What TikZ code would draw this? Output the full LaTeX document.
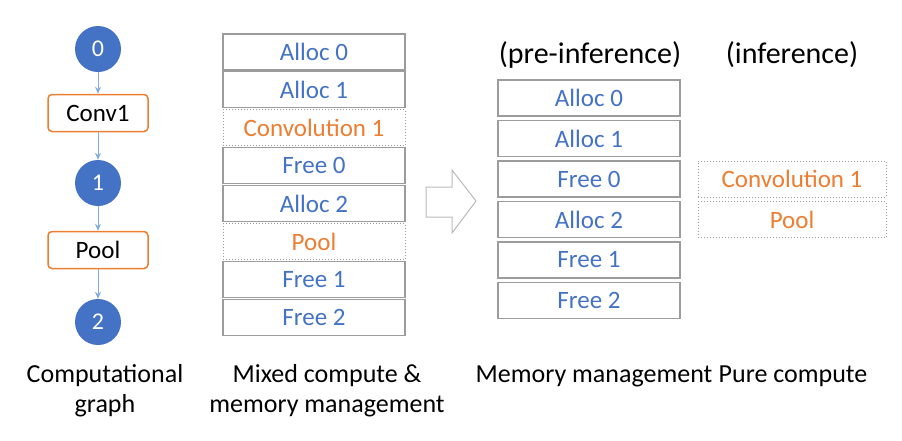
\documentclass[tikz,border=0pt]{standalone}
\usepackage{fontspec}
\setmainfont{Carlito}
\usetikzlibrary{arrows.meta}

\definecolor{opblue}{HTML}{4472C4}
\definecolor{oporange}{HTML}{ED7D31}
\definecolor{edgeblue}{HTML}{7FAEDC}
\definecolor{boxgray}{HTML}{9C9C9C}

\tikzset{
  tensor/.style={circle, fill=opblue, minimum size=46pt, inner sep=0pt,
    text=white, font=\fontsize{24}{28}\selectfont},
  opbox/.style={draw=oporange, line width=1.5pt, rounded corners=4pt,
    minimum width=100pt, minimum height=37pt, inner sep=0pt,
    font=\fontsize{25}{29}\selectfont},
  edge/.style={draw=edgeblue, line width=1pt, -{Stealth[length=7pt,width=6pt]}},
  mem/.style={draw=boxgray, line width=1.1pt, minimum width=182pt,
    minimum height=36pt, inner sep=0pt, text=opblue,
    font=\fontsize{25}{29}\selectfont},
  comp/.style={draw=boxgray, dotted, line width=1pt, minimum width=182pt,
    minimum height=36pt, inner sep=0pt, text=oporange,
    font=\fontsize{25}{29}\selectfont},
  caption/.style={align=center, font=\fontsize{26}{30}\selectfont}
}

\begin{document}
\begin{tikzpicture}[x=1pt, y=-1pt]
    \useasboundingbox (0,0) rectangle (902,440);

    % computational graph
    \node[tensor] (t0) at (98,49) {0};
    \node[opbox] (conv) at (98,113) {Conv1};
    \node[tensor] (t1) at (98,183) {1};
    \node[opbox] (pool) at (98,250) {Pool};
    \node[tensor] (t2) at (98,322) {2};
    \draw[edge] (t0) -- (conv);
    \draw[edge] (conv) -- (t1);
    \draw[edge] (t1) -- (pool);
    \draw[edge] (pool) -- (t2);

    % mixed compute and memory management
    \foreach \t/\s [count=\n] in {Alloc 0/mem, Alloc 1/mem, Convolution 1/comp,
        Free 0/mem, Alloc 2/mem, Pool/comp, Free 1/mem, Free 2/mem}
      \node[\s] (mix\n) at (314,{52+37.9*(\n-1)}) {\t};

    % block arrow
    \draw[boxgray!70, line width=1pt, line join=miter]
      (426,187) -- (452,187) -- (452,170) -- (476,201)
      -- (452,233) -- (452,217) -- (426,217) -- cycle;

    % pre-inference
    \node[font=\fontsize{30}{36}\selectfont] (pre) at (590,55) {(pre-inference)};
    \foreach \t [count=\n] in {Alloc 0, Alloc 1, Free 0, Alloc 2, Free 1, Free 2}
      \node[mem] (pre\n) at (589,{98+40.5*(\n-1)}) {\t};

    % inference
    \node[font=\fontsize{30}{36}\selectfont] (inf) at (792,55) {(inference)};
    \node[comp, minimum width=188pt] (infconv) at (792,179) {Convolution 1};
    \node[comp, minimum width=188pt] (infpool) at (792,219.5) {Pool};

    % captions
    \node[caption] (capgraph) at (105,391) {Computational\\graph};
    \node[caption] (capmix) at (327,391) {Mixed compute \&\\memory management};
    \node[caption] (capmem) at (594,376) {Memory management};
    \node[caption] (cappure) at (793,376) {Pure compute};
\end{tikzpicture}
\end{document}
